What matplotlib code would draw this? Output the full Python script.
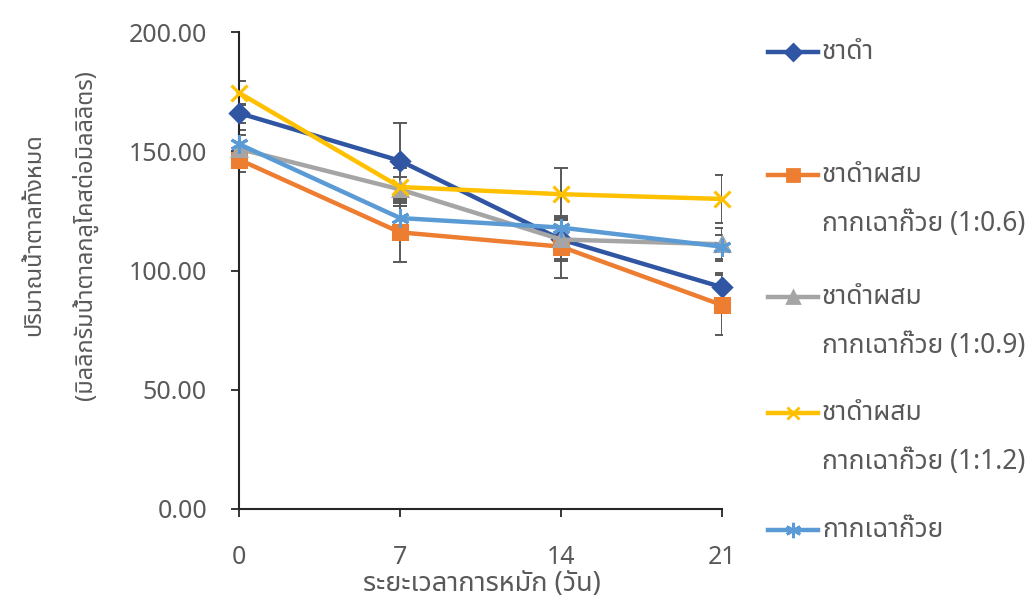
import numpy as np
import matplotlib as mpl
mpl.use("Agg")
import matplotlib.pyplot as plt
from matplotlib import font_manager, ft2font
from matplotlib.lines import Line2D
from matplotlib.ticker import FormatStrFormatter

# ------------------------------------------------------------
# data
# ------------------------------------------------------------
days = [0, 7, 14, 21]

series_labels = [
    "ชาดำ",
    "ชาดำผสม\nกากเฉาก๊วย (1:0.6)",
    "ชาดำผสม\nกากเฉาก๊วย (1:0.9)",
    "ชาดำผสม\nกากเฉาก๊วย (1:1.2)",
    "กากเฉาก๊วย",
]
black_tea = [166.0, 146.0, 113.0, 93.0]
mix_06 = [146.5, 116.0, 110.0, 85.5]
mix_09 = [151.0, 134.0, 113.0, 111.0]
mix_12 = [174.5, 135.0, 132.0, 130.0]
grass_jelly = [153.0, 122.0, 118.0, 110.0]

err_black_tea = [4.0, 16.0, 8.0, 6.0]
err_mix_06 = [5.0, 12.5, 13.0, 12.5]
err_mix_09 = [6.0, 5.0, 9.0, 7.0]
err_mix_12 = [5.0, 8.0, 11.0, 10.0]
err_grass_jelly = [6.0, 5.0, 4.0, 5.0]

y_label = "ปริมาณน้ำตาลทั้งหมด\n(มิลลิกรัมน้ำตาลกลูโคสต่อมิลลิลิตร)"
x_label = "ระยะเวลาการหมัก (วัน)"


# ------------------------------------------------------------
# font: pick any installed family that covers Thai
# ------------------------------------------------------------
def find_thai_family():
    prefs = ["Noto Sans Thai", "Noto Sans Thai UI", "Sarabun", "Loma",
             "Garuda", "Noto Sans Thai Looped", "Kinnari", "Norasi"]
    found = {}
    for f in font_manager.fontManager.ttflist:
        try:
            cmap = ft2font.FT2Font(f.fname).get_charmap()
        except Exception:
            continue
        if 0x0E01 in cmap and 0x0E33 in cmap:
            found.setdefault(f.name, f.fname)
    for p in prefs:
        if p in found:
            return p
    return next(iter(found), None)


thai = find_thai_family()
families = ([thai] if thai else []) + ["DejaVu Sans"]
plt.rcParams["font.family"] = families

TXT = "#595959"
colours = ["#2F55A3", "#ED7D31", "#A5A5A5", "#FFC000", "#5B9BD5"]
markers = ["D", "s", "^", "x", (6, 2, 0)]
msizes = [9, 10, 10, 11, 13]
values = [black_tea, mix_06, mix_09, mix_12, grass_jelly]
errors = [err_black_tea, err_mix_06, err_mix_09, err_mix_12, err_grass_jelly]

fig = plt.figure(figsize=(10.34, 6.0), dpi=100)
ax = fig.add_axes([239 / 1034, 1 - 509 / 600, (722 - 239) / 1034, (509 - 32) / 600])

for vals, errs in zip(values, errors):
    ax.errorbar(days, vals, yerr=errs, fmt="none", ecolor="#595959",
                elinewidth=1.4, capsize=5, capthick=1.4, zorder=2)
for vals, c, m, ms in zip(values, colours, markers, msizes):
    ax.plot(days, vals, color=c, lw=3.2, marker=m, ms=ms,
            mfc=c, mec=c, mew=2.2, zorder=3, clip_on=False)

ax.set_xlim(0, 21)
ax.set_ylim(0, 200)
ax.set_xticks(days)
ax.set_yticks([0, 50, 100, 150, 200])
ax.yaxis.set_major_formatter(FormatStrFormatter("%.2f"))
for s in ["top", "right"]:
    ax.spines[s].set_visible(False)
for s in ["left", "bottom"]:
    ax.spines[s].set_color("#262626")
    ax.spines[s].set_linewidth(1.5)
ax.tick_params(axis="both", direction="out", length=6, width=1.3,
               color="#262626", labelcolor=TXT, labelsize=18)
ax.tick_params(axis="x", pad=20)
ax.tick_params(axis="y", pad=17)

fig.text(60 / 1034, 1 - 235 / 600, y_label, rotation=90, ha="center",
         va="center", multialignment="center", fontsize=17, color=TXT,
         linespacing=2.3)
fig.text(482 / 1034, 1 - 584 / 600, x_label, ha="center", va="center",
         fontsize=19.5, color=TXT)

# legend on the right, handle aligned with the first text line
legend_y = [52, 175, 297, 413, 530]
second_gap = 49
for lab, y, c, m, ms in zip(series_labels, legend_y, colours, markers, msizes):
    yf = 1 - y / 600
    x0, x1 = 768 / 1034, 818 / 1034
    fig.add_artist(Line2D([x0, (x0 + x1) / 2, x1], [yf, yf, yf],
                          transform=fig.transFigure, color=c, lw=3.2,
                          marker=m, ms=ms * 0.85, mfc=c, mec=c, mew=2,
                          markevery=[1]))
    lines = lab.split("\n")
    fig.text(822 / 1034, yf, lines[0], ha="left", va="center",
             fontsize=19, color=TXT)
    if len(lines) > 1:
        fig.text(822 / 1034, 1 - (y + second_gap) / 600, lines[1],
                 ha="left", va="center", fontsize=19, color=TXT)

fig.savefig("out.png", dpi=100)
